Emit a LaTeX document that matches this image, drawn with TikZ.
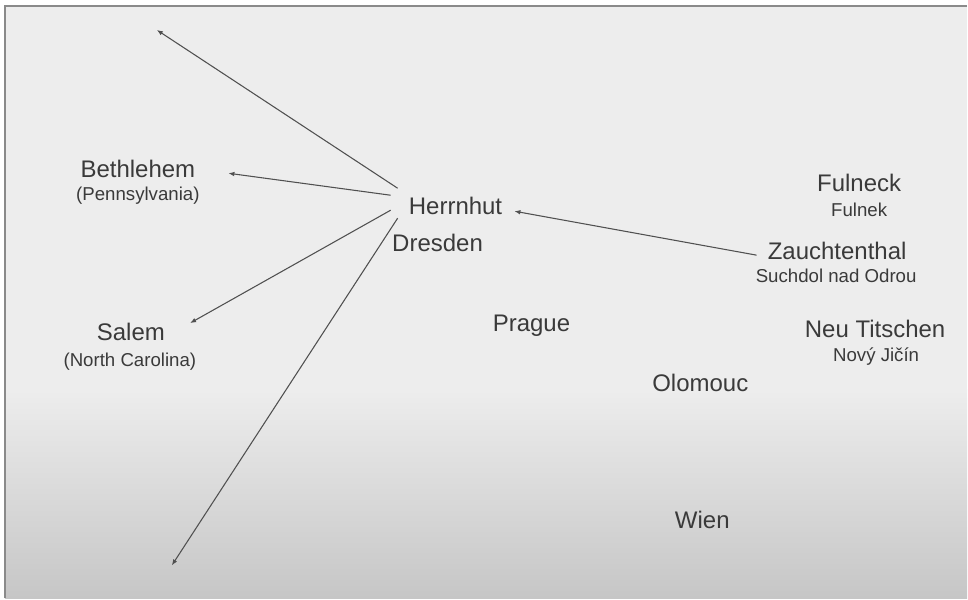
\documentclass[tikz,border=0pt]{standalone}
\usepackage{fontspec}
\setmainfont{Liberation Sans}
\usetikzlibrary{arrows.meta, calc}
\definecolor{slidetop}{HTML}{EDEDED}
\definecolor{slidebot}{HTML}{C6C6C6}
\definecolor{inkgray}{HTML}{3A3A3A}
\definecolor{linegray}{HTML}{505050}
\definecolor{framegray}{HTML}{8A8A8A}
\tikzset{
    town/.style={anchor=base, inner sep=0pt, text=inkgray, font=\fontsize{18}{20}\selectfont},
    townsub/.style={anchor=base, inner sep=0pt, text=inkgray, font=\fontsize{14}{16}\selectfont},
    route/.style={draw=linegray, line width=0.8pt, -{Latex[length=4.5pt,width=3.5pt]}}
}

\begin{document}
\begin{tikzpicture}[x=0.75pt, y=-0.75pt]
    % Slide background and frame
    \fill[white] (0,0) rectangle (968,599);
    \fill[slidetop] (5,6) rectangle (968,390);
    \shade[top color=slidetop, bottom color=slidebot] (5,390) rectangle (968,599);
    \draw[framegray, line width=1.5pt] (968,6.5) -- (5.5,6.5) -- (5.5,599);
    \useasboundingbox (0,0) rectangle (968,599);

    % Places in Saxony and Bohemia
    \node[town] (herrnhut) at (456,215) {Herrnhut};
    \node[town] (dresden) at (438,252) {Dresden};
    \node[town] (prague) at (532,332) {Prague};
    \node[town] (olomouc) at (701,392) {Olomouc};
    \node[town] (wien) at (703,529) {Wien};

    % Places in Moravia (German name, Czech name)
    \node[town] (fulneck) at (860,192) {Fulneck};
    \node[townsub] (fulnek) at (860,217) {Fulnek};
    \node[town] (zauchtenthal) at (838,260) {Zauchtenthal};
    \node[townsub] (suchdol) at (837,283) {Suchdol nad Odrou};
    \node[town] (neutitschen) at (876,338) {Neu Titschen};
    \node[townsub] (novyjicin) at (877,362) {Nový Jičín};

    % Places in America
    \node[town] (bethlehem) at (138,178) {Bethlehem};
    \node[townsub] (pennsylvania) at (138,201) {(Pennsylvania)};
    \node[town] (salem) at (131,341) {Salem};
    \node[townsub] (carolina) at (130,367) {(North Carolina)};

    % Free ends of the outgoing arrows
    \coordinate (farnorth) at (157,30);
    \coordinate (farsouth) at (172,566);

    % Arrows
    \draw[route] ([shift={(-11,4)}]zauchtenthal.west) -- ([shift={(12,5)}]herrnhut.east);
    \draw[route] ([shift={(-11,-18)}]herrnhut.west) -- (farnorth);
    \draw[route] ([shift={(-18,-11)}]herrnhut.west) -- ([shift={(33,4)}]bethlehem.east);
    \draw[route] ([shift={(-18,4)}]herrnhut.west) -- ([shift={(25,-9)}]salem.east);
    \draw[route] ([shift={(-11,12)}]herrnhut.west) -- (farsouth);
\end{tikzpicture}
\end{document}
